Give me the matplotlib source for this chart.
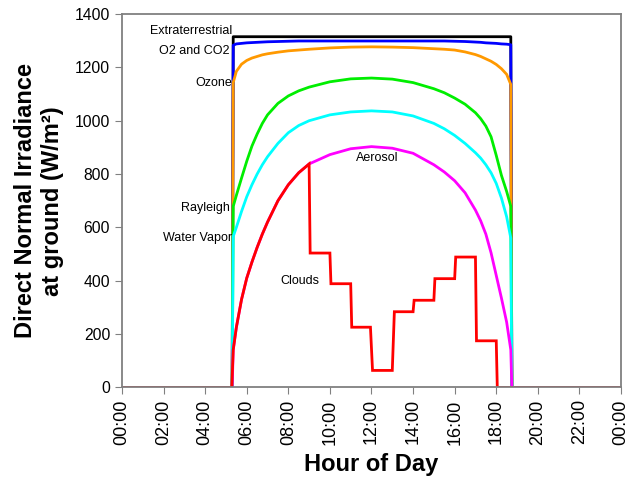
import matplotlib
matplotlib.use("Agg")
import matplotlib.pyplot as plt

plt.rcParams['font.family'] = ['Liberation Sans', 'DejaVu Sans']

# Daylight sample times (hours)
hours = [5.35, 5.5, 5.75, 6.0, 6.25, 6.5, 6.75, 7.0, 7.5, 8.0, 8.5, 9.0, 10.0, 11.0,
         12.0, 13.0, 14.0, 15.0, 15.5, 16.0, 16.5, 17.0, 17.25, 17.5, 17.75,
         18.0, 18.25, 18.5, 18.7]
sunrise_zero = 5.3
sunset_zero = 18.75

extraterrestrial = [1315] * 29
o2_co2 = [1283, 1288, 1290, 1292, 1293, 1294, 1295, 1296, 1297, 1298, 1299, 1299, 1299, 1299,
          1299, 1299, 1299, 1299, 1299, 1298, 1297, 1295, 1294, 1292, 1291,
          1290, 1288, 1287, 1285]
ozone = [1143, 1185, 1212, 1226, 1235, 1241, 1247, 1251, 1257, 1262, 1265, 1268, 1273, 1276,
         1277, 1276, 1274, 1270, 1268, 1265, 1258, 1248, 1241, 1232, 1223,
         1211, 1195, 1174, 1136]
rayleigh = [679, 720, 785, 848, 905, 950, 990, 1022, 1065, 1093, 1112, 1126, 1146, 1157,
            1160, 1156, 1143, 1120, 1105, 1085, 1062, 1030, 1008, 980, 940,
            870, 795, 735, 679]
water_vapor = [566, 600, 660, 715, 760, 800, 835, 865, 915, 955, 982, 1000, 1022, 1033,
               1037, 1033, 1018, 990, 970, 945, 915, 880, 860, 835, 805,
               765, 710, 640, 560]
aerosol = [141, 225, 330, 410, 470, 525, 575, 620, 700, 760, 805, 838, 873, 895,
           903, 897, 878, 835, 808, 775, 730, 665, 625, 575, 505,
           420, 335, 245, 141]

# Clouds series (time, value)
cloud_hours = [0.0, 5.28, 5.35, 5.5, 5.75, 6.0, 6.25, 6.5, 6.75, 7.0, 7.5, 8.0, 8.5, 9.0,
               9.05, 10.0, 10.05, 11.0, 11.05, 11.95, 12.05, 13.0, 13.1,
               14.0, 14.05, 15.0, 15.05, 16.0, 16.05, 17.0, 17.05, 18.0, 18.05, 24.0]
clouds = [0, 0, 141, 225, 330, 410, 470, 525, 575, 620, 700, 760, 805, 838,
          504, 504, 389, 389, 226, 226, 64, 64, 284,
          284, 327, 327, 408, 408, 489, 489, 175, 175, 0, 0]

series = [
    ("Extraterrestrial", extraterrestrial, "black"),
    ("O2 and CO2", o2_co2, "#0000ff"),
    ("Ozone", ozone, "#ff9900"),
    ("Rayleigh", rayleigh, "#00ee00"),
    ("Water Vapor", water_vapor, "#00ffff"),
    ("Aerosol", aerosol, "#ff00ff"),
]

fig = plt.figure(figsize=(6.32, 4.84), dpi=100)
ax = fig.add_axes([0.193, 0.1994, 0.7896, 0.7716])

for name, vals, col in series:
    t = [0.0, sunrise_zero] + hours + [sunset_zero, 24.0]
    v = [0, 0] + vals + [0, 0]
    ax.plot(t, v, color=col, lw=2.0, solid_joinstyle='round')
ax.plot(cloud_hours, clouds, color="#ff0000", lw=2.0, solid_joinstyle='miter')

ax.set_xlim(0, 24)
ax.set_ylim(0, 1400)
ax.set_yticks(range(0, 1401, 200))
xt = list(range(0, 25, 2))
ax.set_xticks(xt)
ax.set_xticklabels([f"{h % 24:02d}:00" for h in xt], rotation=90, fontsize=13)
ax.tick_params(axis='y', labelsize=11.3, length=5, color='#808080')
ax.tick_params(axis='x', length=5, color='#808080')
for s in ax.spines.values():
    s.set_color('#808080')
    s.set_linewidth(1.3)

ax.set_xlabel("Hour of Day", fontsize=17, fontweight='bold', labelpad=6)
ax.set_ylabel("Direct Normal Irradiance\nat ground (W/m²)", fontsize=17,
              fontweight='bold', labelpad=8)

fs = 9
ax.text(5.29, 1335, "Extraterrestrial", ha='right', va='center', fontsize=fs)
ax.text(5.19, 1261, "O2 and CO2", ha='right', va='center', fontsize=fs)
ax.text(5.29, 1140, "Ozone", ha='right', va='center', fontsize=fs)
ax.text(5.2, 674, "Rayleigh", ha='right', va='center', fontsize=fs)
ax.text(5.29, 562, "Water Vapor", ha='right', va='center', fontsize=fs)
ax.text(12.26, 862, "Aerosol", ha='center', va='center', fontsize=fs)
ax.text(8.56, 400, "Clouds", ha='center', va='center', fontsize=fs)

fig.savefig("out.png", dpi=100)
